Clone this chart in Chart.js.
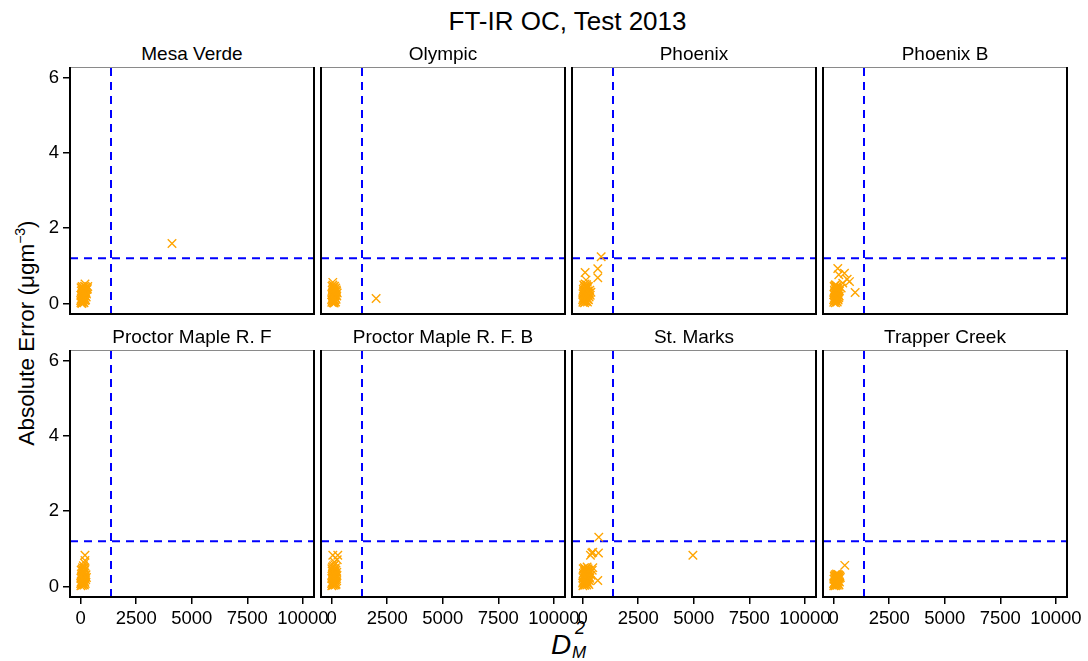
<!DOCTYPE html>
<html>
<head>
<meta charset="utf-8">
<script src="https://cdn.jsdelivr.net/npm/chart.js@4.4.0/dist/chart.umd.min.js"></script>
<style>
  body { margin: 0; background: #fff; font-family: "Liberation Sans", Arial, Helvetica, sans-serif; color: #000; }
  #page { position: relative; width: 1088px; height: 661px; overflow: hidden; }
  .panel { position: absolute; }
  .ptitle { position: absolute; width: 244px; text-align: center; font-size: 19px; line-height: 19px; white-space: nowrap; }
  #mainTitle { position: absolute; left: 0; width: 1135px; top: 8px; text-align: center; font-size: 26px; line-height: 26px; }
  #yTitle { position: absolute; left: 27px; top: 333px; transform: translate(-50%, -50%) rotate(-90deg); font-size: 22.5px; white-space: nowrap; }
  #yTitle sup { font-size: 14px; vertical-align: 9px; line-height: 0; }
  .xt { position: absolute; font-style: italic; line-height: 1; }
</style>
</head>
<body>
<div id="page">
  <div id="mainTitle">FT-IR OC, Test 2013</div>
  <div id="yTitle">Absolute Error (μgm<sup>−3</sup>)</div>
  <span class="xt" style="left:551px; top:631px; font-size:28px;">D</span>
  <span class="xt" style="left:575px; top:619px; font-size:18px;">2</span>
  <span class="xt" style="left:572px; top:644px; font-size:17px;">M</span>
</div>
<script>
// site panels, in reading order
const sites = ['Mesa Verde', 'Olympic', 'Phoenix', 'Phoenix B',
               'Proctor Maple R. F', 'Proctor Maple R. F. B', 'St. Marks', 'Trapper Creek'];

// [D_M^2, absolute error]
const mesaVerde = [[10,0.02],[40,0.06],[75,0.03],[115,0.05],[150,0.02],[190,0.08],[25,0.12],[60,0.16],[100,0.11],[140,0.18],[180,0.14],[220,0.10],
  [15,0.22],[50,0.26],[90,0.21],[130,0.27],[170,0.24],[210,0.20],[250,0.17],[30,0.33],[70,0.36],[110,0.31],[155,0.38],[200,0.34],[240,0.29],[285,0.37],
  [20,0.42],[65,0.45],[120,0.43],[175,0.46],[230,0.44],[320,0.45],[195,0.52],[4110,1.59],
  [0,0.08],[55,0.00],[130,0.10],[260,0.25],[300,0.40],[85,0.30],[160,0.32],[45,0.40]];
const olympic = [[5,0.03],[35,0.07],[70,0.02],[105,0.05],[140,0.09],[175,0.04],[20,0.13],[55,0.17],[95,0.12],[130,0.19],[165,0.15],[200,0.11],
  [10,0.24],[45,0.28],[85,0.22],[120,0.26],[160,0.30],[195,0.23],[230,0.20],[25,0.35],[60,0.39],[100,0.33],[140,0.37],[180,0.41],[220,0.32],
  [15,0.46],[55,0.49],[95,0.44],[250,0.28],[50,0.56],[2000,0.13],
  [0,0.10],[75,0.09],[150,0.22],[210,0.36],[80,0.42],[130,0.46],[40,0.20],[115,0.01]];
const phoenix = [[10,0.03],[45,0.07],[85,0.02],[125,0.05],[170,0.08],[215,0.04],[260,0.10],[20,0.14],[60,0.18],[105,0.13],[150,0.19],[195,0.15],[240,0.21],[290,0.17],
  [15,0.26],[55,0.29],[100,0.24],[145,0.31],[190,0.27],[235,0.33],[280,0.25],[340,0.22],[30,0.38],[75,0.41],[120,0.36],[165,0.43],[210,0.39],[260,0.45],[320,0.35],[370,0.30],
  [50,0.49],[110,0.52],[180,0.50],[150,0.62],[110,0.82],[680,0.68],[680,0.92],[833,1.24],
  [0,0.10],[80,0.10],[130,0.23],[225,0.12],[300,0.28],[90,0.45],[200,0.46],[40,0.33]];
const phoenixB = [[5,0.03],[40,0.08],[80,0.02],[120,0.06],[160,0.04],[200,0.09],[25,0.14],[65,0.18],[105,0.12],[145,0.17],[185,0.13],[230,0.16],
  [15,0.24],[55,0.27],[95,0.22],[135,0.29],[175,0.25],[220,0.31],[35,0.35],[75,0.39],[115,0.34],[155,0.41],[200,0.37],[260,0.33],[338,0.41],
  [20,0.45],[60,0.48],[110,0.44],[230,0.76],[185,0.93],[486,0.80],[607,0.64],[711,0.58],[410,0.54],[966,0.29],
  [0,0.10],[90,0.09],[125,0.21],[210,0.24],[45,0.31],[165,0.46],[85,0.50],[250,0.20]];
const proctor = [[10,0.02],[45,0.06],[85,0.03],[125,0.07],[165,0.04],[205,0.08],[20,0.12],[60,0.15],[100,0.11],[140,0.16],[180,0.13],[225,0.18],
  [15,0.22],[55,0.25],[95,0.21],[135,0.27],[175,0.23],[215,0.29],[30,0.33],[70,0.36],[110,0.32],[150,0.38],[190,0.35],[240,0.31],
  [25,0.43],[65,0.46],[105,0.42],[150,0.49],[195,0.45],[120,0.55],[170,0.62],[194,0.69],[194,0.83],
  [0,0.08],[75,0.09],[120,0.19],[200,0.22],[40,0.28],[130,0.40],[85,0.50],[260,0.24]];
const proctorB = [[5,0.02],[40,0.05],[80,0.03],[120,0.08],[160,0.04],[200,0.06],[20,0.11],[60,0.14],[100,0.10],[140,0.16],[180,0.12],[225,0.15],
  [10,0.21],[50,0.24],[90,0.20],[130,0.26],[170,0.22],[210,0.27],[30,0.31],[70,0.34],[110,0.30],[150,0.36],[195,0.32],[240,0.29],
  [20,0.41],[60,0.44],[100,0.40],[145,0.46],[190,0.43],[35,0.52],[85,0.55],[140,0.58],[120,0.65],[250,0.71],[50,0.83],[275,0.83],
  [0,0.08],[70,0.08],[115,0.18],[220,0.21],[45,0.36],[170,0.50],[230,0.38],[10,0.47]];
const stMarks = [[10,0.02],[50,0.06],[95,0.03],[140,0.07],[185,0.04],[230,0.09],[280,0.05],[20,0.13],[65,0.17],[110,0.12],[155,0.18],[200,0.14],[250,0.19],[300,0.15],
  [15,0.24],[60,0.27],[105,0.23],[150,0.29],[195,0.25],[245,0.31],[290,0.26],[35,0.35],[80,0.39],[125,0.34],[170,0.41],[220,0.37],[270,0.43],[340,0.36],
  [25,0.47],[75,0.50],[130,0.46],[200,0.52],[455,0.50],[430,0.43],[680,0.16],[351,0.83],[410,0.89],[455,0.91],[711,0.89],[725,1.31],[4960,0.83],
  [0,0.09],[85,0.10],[175,0.11],[320,0.22],[45,0.30],[110,0.42],[240,0.47],[380,0.30]];
const trapperCreek = [[5,0.02],[40,0.05],[80,0.02],[120,0.06],[160,0.03],[200,0.07],[240,0.04],[20,0.10],[60,0.13],[100,0.09],[140,0.14],[180,0.11],[220,0.15],[260,0.12],
  [15,0.19],[55,0.22],[95,0.18],[135,0.23],[175,0.20],[215,0.25],[30,0.28],[70,0.31],[110,0.27],[150,0.30],[200,0.32],[280,0.28],[500,0.56],
  [0,0.07],[85,0.06],[190,0.17],[250,0.21],[45,0.26],[130,0.33],[235,0.30],[300,0.24]];

const siteData = [mesaVerde, olympic, phoenix, phoenixB, proctor, proctorB, stMarks, trapperCreek];

// axes and thresholds
const xTicks = [0, 2500, 5000, 7500, 10000];
const yTicks = [0, 2, 4, 6];
const X_MIN = -480, X_MAX = 10500;
const Y_MIN = -0.28, Y_MAX = 6.28;
const DM_CUT = 1365;   // vertical dashed line
const ERR_CUT = 1.2;   // horizontal dashed line

// panel geometry (plot area)
const colLeft = [70, 321, 572, 823];
const rowTop = [67, 350];
const PW = 244, PH = 247;
const PAD_L = 60, PAD_T = 8, PAD_R = 32, PAD_B = 45;

const FONT = '"Liberation Sans", Arial, Helvetica, sans-serif';

// frame round each panel: thin grey top, black left/bottom/right
const framePlugin = {
  id: 'frame',
  afterDatasetsDraw(chart) {
    const { ctx, chartArea: a } = chart;
    ctx.save();
    ctx.strokeStyle = '#8a8a8a';
    ctx.lineWidth = 1;
    ctx.beginPath();
    ctx.moveTo(a.left, a.top + 0.5);
    ctx.lineTo(a.right, a.top + 0.5);
    ctx.stroke();
    ctx.strokeStyle = '#000';
    ctx.lineWidth = 2;
    ctx.beginPath();
    ctx.moveTo(a.left, a.top);
    ctx.lineTo(a.left, a.bottom);
    ctx.lineTo(a.right, a.bottom);
    ctx.lineTo(a.right, a.top);
    ctx.stroke();
    ctx.restore();
  }
};

function makePanel(i) {
  const col = i % 4, row = Math.floor(i / 4);
  const page = document.getElementById('page');

  const title = document.createElement('div');
  title.className = 'ptitle';
  title.style.left = colLeft[col] + 'px';
  title.style.top = (rowTop[row] - 23) + 'px';
  title.textContent = sites[i];
  page.appendChild(title);

  const wrap = document.createElement('div');
  wrap.className = 'panel';
  wrap.style.left = (colLeft[col] - PAD_L) + 'px';
  wrap.style.top = (rowTop[row] - PAD_T) + 'px';
  const canvas = document.createElement('canvas');
  canvas.width = PAD_L + PW + PAD_R;
  canvas.height = PAD_T + PH + PAD_B;
  wrap.appendChild(canvas);
  page.appendChild(wrap);

  const showX = row === 1, showY = col === 0;

  new Chart(canvas.getContext('2d'), {
    type: 'scatter',
    data: {
      datasets: [
        {
          type: 'scatter',
          data: siteData[i].map(p => ({ x: p[0], y: p[1] })),
          pointStyle: 'crossRot',
          pointRadius: 6,
          borderColor: '#FFA500',
          backgroundColor: '#FFA500',
          borderWidth: 1.4,
          order: 0
        },
        {
          type: 'line',
          data: [{ x: DM_CUT, y: Y_MIN }, { x: DM_CUT, y: Y_MAX }],
          borderColor: '#0000FF',
          borderWidth: 2,
          borderDash: [8, 6],
          pointRadius: 0,
          order: 1
        },
        {
          type: 'line',
          data: [{ x: X_MIN, y: ERR_CUT }, { x: X_MAX, y: ERR_CUT }],
          borderColor: '#0000FF',
          borderWidth: 2,
          borderDash: [8, 6],
          pointRadius: 0,
          order: 1
        }
      ]
    },
    options: {
      responsive: false,
      animation: false,
      layout: { padding: { top: PAD_T, right: PAD_R, left: 0, bottom: 0 } },
      plugins: { legend: { display: false }, tooltip: { enabled: false } },
      scales: {
        x: {
          type: 'linear',
          min: X_MIN,
          max: X_MAX,
          afterBuildTicks: s => { s.ticks = xTicks.map(v => ({ value: v })); },
          afterFit: s => { s.height = PAD_B; s.paddingLeft = 0; s.paddingRight = 0; },
          border: { display: false },
          grid: { display: showX, drawOnChartArea: false, tickLength: 7, color: '#000', lineWidth: 1.5 },
          ticks: {
            display: showX, autoSkip: false, maxRotation: 0, padding: 4, color: '#000',
            font: { family: FONT, size: 18.5 },
            callback: v => String(v)
          }
        },
        y: {
          type: 'linear',
          min: Y_MIN,
          max: Y_MAX,
          afterBuildTicks: s => { s.ticks = yTicks.map(v => ({ value: v })); },
          afterFit: s => { s.width = PAD_L; s.paddingTop = 0; s.paddingBottom = 0; },
          border: { display: false },
          grid: { display: showY, drawOnChartArea: false, tickLength: 7, color: '#000', lineWidth: 1.5 },
          ticks: {
            display: showY, autoSkip: false, padding: 4, color: '#000',
            font: { family: FONT, size: 18.5 },
            callback: v => String(v)
          }
        }
      }
    },
    plugins: [framePlugin]
  });
}

for (let i = 0; i < sites.length; i++) makePanel(i);
</script>
</body>
</html>
